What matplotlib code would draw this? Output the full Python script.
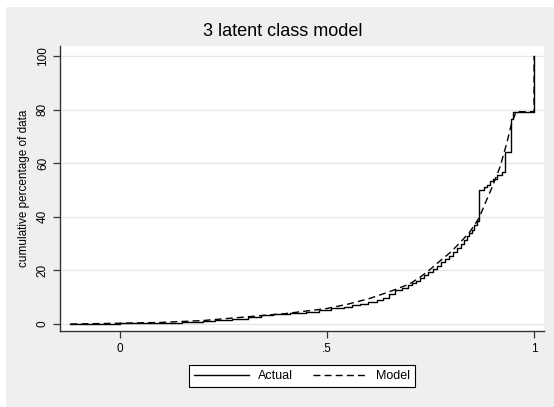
import matplotlib
matplotlib.use("Agg")
import matplotlib.pyplot as plt
from matplotlib.patches import Rectangle

# Actual: empirical step curve (x where step starts, cumulative %)
actual_x = [-0.12, 0.00, 0.08, 0.15, 0.20, 0.23, 0.27, 0.31, 0.34, 0.37, 0.41, 0.45,
            0.48, 0.51, 0.54, 0.56, 0.58, 0.60, 0.62, 0.635, 0.65, 0.665, 0.68,
            0.695, 0.705, 0.715, 0.725, 0.735, 0.745, 0.755, 0.765, 0.775, 0.785,
            0.795, 0.805, 0.815, 0.823, 0.83, 0.837, 0.843, 0.85, 0.856, 0.862,
            0.867, 0.879, 0.886, 0.893, 0.901, 0.910, 0.923, 0.931, 0.944, 0.950, 1.0]
actual_y = [0.0, 0.2, 0.4, 0.7, 1.0, 1.5, 2.0, 2.8, 3.4, 3.7, 4.0, 4.6,
            5.3, 5.9, 6.3, 7.0, 7.6, 8.2, 8.9, 9.6, 11.2, 12.6, 13.5,
            14.4, 15.3, 16.2, 17.1, 18.2, 19.5, 20.6, 21.8, 23.0, 24.2,
            25.5, 26.8, 28.3, 29.9, 31.2, 32.8, 34.0, 35.2, 36.8, 38.6,
            50.0, 51.0, 52.0, 53.2, 54.0, 55.4, 56.8, 64.3, 76.5, 79.2, 100.0]

# Model: fitted cumulative curve
model_x = [-0.12, 0.0, 0.1, 0.2, 0.3, 0.4, 0.5, 0.55, 0.6, 0.65, 0.7, 0.725, 0.75,
           0.775, 0.8, 0.825, 0.845, 0.867, 0.886, 0.9, 0.918, 0.934, 0.946, 0.957,
           1.0, 1.0]
model_y = [0.0, 0.3, 0.6, 1.3, 2.6, 3.9, 5.8, 7.4, 9.4, 12.0, 15.0, 17.5, 20.5,
           23.8, 27.0, 31.0, 34.4, 39.5, 46.5, 51.5, 58.7, 67.4, 75.0, 79.2,
           79.2, 100.0]

x_ticks = [0, 0.5, 1]
x_labels = ["0", ".5", "1"]
y_ticks = [0, 20, 40, 60, 80, 100]

plt.rcParams['font.family'] = ['Liberation Sans', 'DejaVu Sans']

W, H = 554, 407
fig = plt.figure(figsize=(W / 100, H / 100), dpi=100)
fig.patch.set_facecolor('white')
fig.patches.append(Rectangle((6 / W, 0), 1 - 6 / W, 1 - 7 / H, transform=fig.transFigure,
                             facecolor='#efefef', edgecolor='none', zorder=-10))

ax = fig.add_axes([60 / W, 1 - 331 / H, (544 - 60) / W, (331 - 46) / H])
ax.set_facecolor('white')

ax.plot(actual_x, actual_y, drawstyle='steps-post', color='black', linewidth=1.0, label='Actual')
ax.plot(model_x, model_y, color='black', linewidth=1.0, linestyle=(0, (5, 3)), label='Model')

ax.set_xlim(-0.145, 1.024)
ax.set_ylim(-2.6, 103.7)
ax.set_xticks(x_ticks)
ax.set_xticklabels(x_labels)
ax.set_yticks(y_ticks)
ax.set_yticklabels([str(v) for v in y_ticks], rotation=90, va='center')
ax.tick_params(axis='both', labelsize=8.5, length=5, width=0.9, color='#333333', direction='out')
ax.tick_params(axis='x', pad=4)
ax.tick_params(axis='y', pad=3)

ax.grid(axis='y', color='#e6e6e6', linewidth=1)
ax.set_axisbelow(True)

for s in ['top', 'right']:
    ax.spines[s].set_visible(False)
for s in ['left', 'bottom']:
    ax.spines[s].set_color('#333333')
    ax.spines[s].set_linewidth(1)

ax.set_ylabel("cumulative percentage of data", fontsize=8.5)
ax.yaxis.set_label_coords(-30 / (544 - 60), 0.5)

fig.text(283 / W, 1 - 31 / H, "3 latent class model", ha='center', va='center', fontsize=13)

leg = ax.legend(loc='center', bbox_to_anchor=(0.5, -(376 - 331) / (331 - 46)), ncol=2,
                fontsize=9, frameon=True, fancybox=False, handlelength=4.4,
                columnspacing=1.6, handletextpad=0.7, borderpad=0.4, borderaxespad=0)
leg.get_frame().set_edgecolor('black')
leg.get_frame().set_linewidth(0.8)
leg.get_frame().set_facecolor('white')
leg.get_frame().set_alpha(1)

fig.savefig("out.png", dpi=100)
